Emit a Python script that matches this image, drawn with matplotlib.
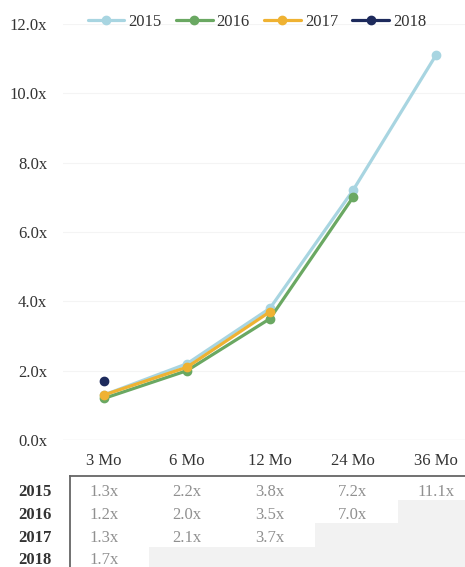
import matplotlib
matplotlib.use("Agg")
import matplotlib.pyplot as plt
from matplotlib.patches import Rectangle
import numpy as np

plt.rcParams['font.family'] = ['Liberation Serif', 'DejaVu Serif']

# data
periods = ['3 Mo', '6 Mo', '12 Mo', '24 Mo', '36 Mo']
years = ['2015', '2016', '2017', '2018']
v2015 = [1.3, 2.2, 3.8, 7.2, 11.1]
v2016 = [1.2, 2.0, 3.5, 7.0]
v2017 = [1.3, 2.1, 3.7]
v2018 = [1.7]
series = [v2015, v2016, v2017, v2018]
colors = ['#a8d5e1', '#6aa862', '#efb232', '#1d2a5c']
yticks = [0, 2, 4, 6, 8, 10, 12]

W, H = 465, 567
fig = plt.figure(figsize=(W / 100, H / 100), dpi=100)
fig.patch.set_facecolor('white')

left = 62.5 / W
width = 1 - left
ax = fig.add_axes([left, (H - 440) / H, width, 416 / H])
ax_t = fig.add_axes([left, 0, width, 127 / H])

xlim = (-0.5, 4.35)

# 라인 차트
for yr, vals, c in zip(years, series, colors):
    ax.plot(np.arange(len(vals)), vals, color=c, lw=2.3, marker='o',
            markersize=6, label=yr, solid_capstyle='round')

ax.set_xlim(*xlim)
ax.set_ylim(0, 12)
ax.set_yticks(yticks)
ax.set_yticklabels([f'{t:.1f}x' for t in yticks])
ax.set_xticks([])
ax.tick_params(axis='y', length=0, pad=11, labelsize=12, labelcolor='#333333')
ax.grid(axis='y', color='#f4f4f4', lw=0.8)
ax.axhline(0, color='#e4e4e4', lw=0.9, zorder=0)
ax.set_axisbelow(True)
for s in ax.spines.values():
    s.set_visible(False)

fig.legend(loc='center', bbox_to_anchor=(257 / W, 1 - 22 / H), ncol=4,
           frameon=False, fontsize=12, handlelength=2.2, handletextpad=0.25,
           columnspacing=0.85, labelcolor='#333333', borderaxespad=0)

# 하단 테이블
ax_t.set_xlim(*xlim)
ax_t.set_ylim(H, 440)
ax_t.axis('off')

row_y = [492, 515, 538, 560]
row_top = [476, 500, 523, 547, 570]
for j, p in enumerate(periods):
    ax_t.text(j, 461, p, ha='center', va='center', fontsize=12, color='#333333')

for i, (yr, vals) in enumerate(zip(years, series)):
    ax_t.text(-0.63, row_y[i], yr, ha='right', va='center', fontsize=12,
              fontweight='bold', color='#333333', clip_on=False)
    for j in range(len(periods)):
        if j < len(vals):
            ax_t.text(j, row_y[i], f'{vals[j]:.1f}x', ha='center', va='center',
                      fontsize=12, color='#909090')
        else:
            x0 = j - 0.46 if j == len(vals) else j - 0.5
            ax_t.add_patch(Rectangle((x0, row_top[i]), j + 0.5 - x0,
                                     row_top[i + 1] - row_top[i],
                                     facecolor='#f2f2f2', edgecolor='none'))

ax_t.plot([-0.41, xlim[1]], [476, 476], color='#666666', lw=1.3, clip_on=False)
ax_t.plot([-0.41, -0.41], [476, H], color='#666666', lw=1.3, clip_on=False)

fig.savefig('out.png', dpi=100)
